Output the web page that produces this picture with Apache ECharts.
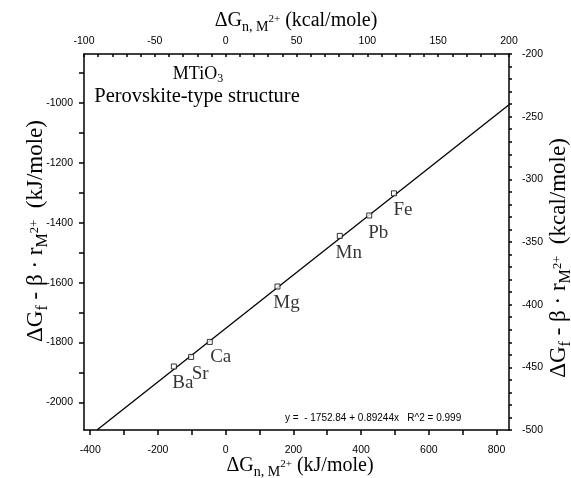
<!DOCTYPE html>
<html>
<head>
<meta charset="utf-8">
<script src="https://cdn.jsdelivr.net/npm/echarts@6/dist/echarts.min.js"></script>
<style>
  html, body { margin: 0; padding: 0; background: #fff; }
  #chart { width: 571px; height: 478px; }
</style>
</head>
<body>
<div id="chart"></div>
<script>
// data (kJ/mole)
const names = ["Ba", "Sr", "Ca", "Mg", "Mn", "Pb", "Fe"];
const xValues = [-153, -102, -47, 153, 337, 424, 497];
const yValues = [-1880, -1848, -1798, -1613, -1444, -1376, -1302];

// fit printed on the chart
const fitIntercept = -1752.84;
const fitSlope = 0.89244;

// axes
const kcal = 4.184;
const kcalXRange = [-100, 200];
const kcalYRange = [-500, -200];
const kjXLabels = [-400, -200, 0, 200, 400, 600, 800];
const kjXTicks = [-400, -300, -200, -100, 0, 100, 200, 300, 400, 500, 600, 700, 800];
const kjYLabels = [-2000, -1800, -1600, -1400, -1200, -1000];
const kjYTicks = [-2000, -1900, -1800, -1700, -1600, -1500, -1400, -1300, -1200, -1100, -1000, -900];
const kcalXLabels = [-100, -50, 0, 50, 100, 150, 200];
const kcalYLabels = [-500, -450, -400, -350, -300, -250, -200];

const kjXMin = kcalXRange[0] * kcal, kjXMax = kcalXRange[1] * kcal;
const kjYMin = kcalYRange[0] * kcal, kjYMax = kcalYRange[1] * kcal;

const every10 = (a, b) => { const r = []; for (let v = a; v <= b; v += 10) r.push(v); return r; };

const labelOffsets = { Ca: [11, 15] };

const chart = echarts.init(document.getElementById("chart"));

const tickFont = { fontFamily: "Liberation Sans", fontSize: 10.5, color: "#000", formatter: v => String(v) };
const lineStyle = { color: "#000", width: 1.5 };
const serif = "Liberation Serif";

// rich styles for the axis titles; sub/superscripts are shifted with padding
function titleRich(size) {
  return {
    a: { fontFamily: serif, fontSize: size, lineHeight: size + 4, color: "#000" },
    s: { fontFamily: serif, fontSize: size * 0.7, lineHeight: size * 0.7, padding: [size * 0.6, 0, 0, 0], color: "#000" },
    t: { fontFamily: serif, fontSize: size * 0.55, lineHeight: size * 0.55, padding: [0, 0, size * 0.15, 0], color: "#000" }
  };
}

const fitStart = (kjYMin - fitIntercept) / fitSlope;

const option = {
  animation: false,
  backgroundColor: "#fff",
  grid: { left: 84, top: 54, right: 62, bottom: 48 },
  xAxis: [
    {
      type: "value", position: "bottom", min: kjXMin, max: kjXMax,
      axisLine: { onZero: false, lineStyle: lineStyle },
      axisTick: { inside: false, length: 5, lineStyle: lineStyle, customValues: kjXTicks },
      axisLabel: Object.assign({ customValues: kjXLabels, margin: 15 }, tickFont),
      splitLine: { show: false }
    },
    {
      type: "value", position: "top", min: kcalXRange[0], max: kcalXRange[1],
      axisLine: { onZero: false, lineStyle: lineStyle },
      axisTick: { inside: true, length: 3, lineStyle: lineStyle, customValues: every10(kcalXRange[0], kcalXRange[1]) },
      axisLabel: Object.assign({ customValues: kcalXLabels, margin: 7 }, tickFont),
      splitLine: { show: false }
    }
  ],
  yAxis: [
    {
      type: "value", position: "left", min: kjYMin, max: kjYMax,
      axisLine: { onZero: false, lineStyle: lineStyle },
      axisTick: { inside: false, length: 5, lineStyle: lineStyle, customValues: kjYTicks },
      axisLabel: Object.assign({ customValues: kjYLabels, margin: 11 }, tickFont),
      splitLine: { show: false }
    },
    {
      type: "value", position: "right", min: kcalYRange[0], max: kcalYRange[1],
      axisLine: { onZero: false, lineStyle: lineStyle },
      axisTick: { inside: false, length: 3, lineStyle: lineStyle, customValues: every10(kcalYRange[0], kcalYRange[1]) },
      axisLabel: Object.assign({ customValues: kcalYLabels, margin: 13 }, tickFont),
      splitLine: { show: false }
    }
  ],
  series: [
    {
      type: "line",
      xAxisIndex: 0, yAxisIndex: 0,
      data: [[fitStart, fitIntercept + fitSlope * fitStart], [kjXMax, fitIntercept + fitSlope * kjXMax]],
      symbol: "none",
      lineStyle: { color: "#000", width: 1.3 },
      clip: true,
      z: 2
    },
    {
      type: "scatter",
      xAxisIndex: 0, yAxisIndex: 0,
      symbol: "rect",
      symbolSize: 5,
      itemStyle: { color: "#fff", borderColor: "#000", borderWidth: 1 },
      z: 3,
      data: names.map((n, i) => ({
        name: n,
        value: [xValues[i], yValues[i]],
        label: {
          show: true,
          position: "inside",
          offset: labelOffsets[n] || [9, 17],
          formatter: "{b}",
          fontFamily: serif,
          fontSize: 19,
          color: "#000",
          align: "center",
          verticalAlign: "middle"
        }
      }))
    }
  ],
  graphic: [
    {
      type: "text", x: 296, y: 21,
      style: { text: "{a|ΔG}{s|n, M}{t|2+}{a| (kcal/mole)}", rich: titleRich(20), align: "center", verticalAlign: "middle" }
    },
    {
      type: "text", x: 300, y: 466,
      style: { text: "{a|ΔG}{s|n, M}{t|2+}{a| (kJ/mole)}", rich: titleRich(20), align: "center", verticalAlign: "middle" }
    },
    {
      type: "text", x: 36, y: 231, rotation: Math.PI / 2,
      style: { text: "{a|ΔG}{s|f}{a| - β · r}{s|M}{t|2+}{a|  (kJ/mole)}", rich: titleRich(23), align: "center", verticalAlign: "middle" }
    },
    {
      type: "text", x: 559, y: 258, rotation: Math.PI / 2,
      style: { text: "{a|ΔG}{s|f}{a| - β · r}{s|M}{t|2+}{a|  (kcal/mole)}", rich: titleRich(23), align: "center", verticalAlign: "middle" }
    },
    {
      type: "text", x: 198, y: 74,
      style: {
        text: "{a|MTiO}{s|3}",
        rich: {
          a: { fontFamily: serif, fontSize: 18, lineHeight: 22, color: "#000" },
          s: { fontFamily: serif, fontSize: 12, lineHeight: 12, padding: [10, 0, 0, 0], color: "#000" }
        },
        align: "center", verticalAlign: "middle"
      }
    },
    {
      type: "text", x: 197, y: 97,
      style: { text: "Perovskite-type structure", fontFamily: serif, fontSize: 20.5, fill: "#000", align: "center", verticalAlign: "middle" }
    },
    {
      type: "text", x: 285, y: 418,
      style: { text: "y =  - 1752.84 + 0.89244x   R^2 = 0.999", fontFamily: "Liberation Sans", fontSize: 10, fill: "#000", align: "left", verticalAlign: "middle" }
    }
  ]
};

chart.setOption(option);
</script>
</body>
</html>
